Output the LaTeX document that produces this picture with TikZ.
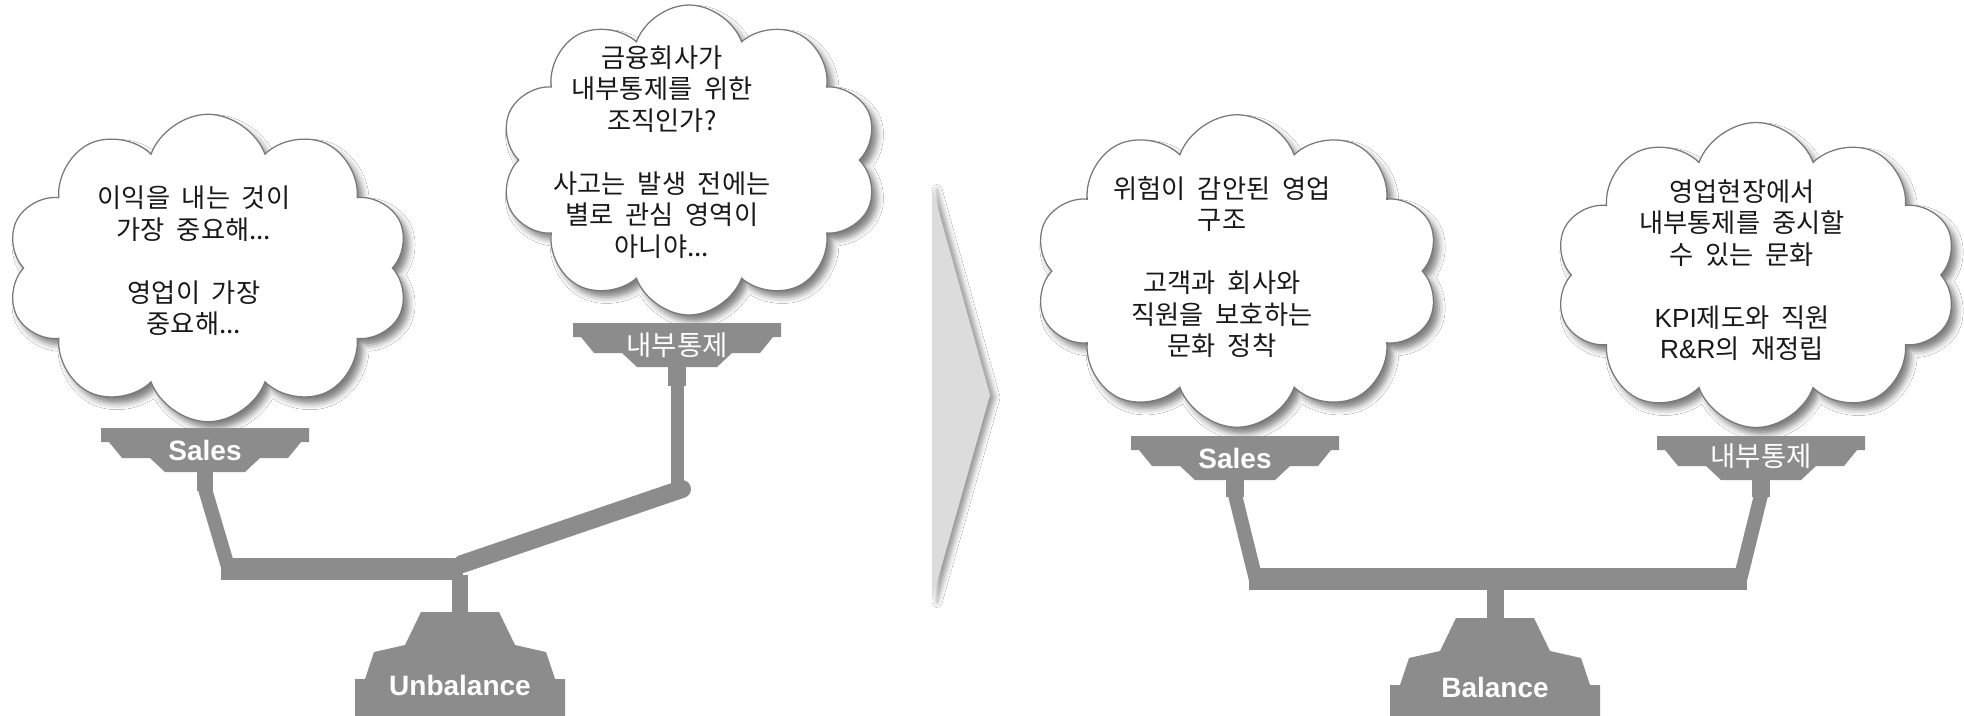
\documentclass[tikz,border=0pt]{standalone}
\usepackage{fontspec}
\setmainfont{Liberation Sans}
\newfontfamily\krfont[WordSpace=2]{Noto Sans CJK KR}
\usetikzlibrary{shapes.symbols,shadows.blur}

\definecolor{scalegray}{RGB}{140,140,140}
\definecolor{arrowgray}{RGB}{220,220,220}
\definecolor{cloudline}{RGB}{120,120,120}
\newcommand{\engtext}[1]{{\normalfont #1}}

% pan and stand of a scale, drawn in pixel units
\tikzset{
  pan/.pic={
    \fill[scalegray] (-104,0) -- (104,0) -- (104,14) -- (96,14) -- (83,30) -- (55,30)
      -- (40,44) -- (-40,44) -- (-55,30) -- (-83,30) -- (-96,14) -- (-104,14) -- cycle;
  },
  stand/.pic={
    \fill[scalegray] (-39,0) -- (39,0) -- (55,33) -- (86,40) -- (95,67) -- (105,67)
      -- (105,104) -- (-105,104) -- (-105,67) -- (-95,67) -- (-86,40) -- (-55,33) -- cycle;
  }
}

\begin{document}
\begin{tikzpicture}[
    x=0.4pt, y=-0.4pt,
    cloudbox/.style={cloud, cloud puffs=10, cloud puff arc=140, cloud ignores aspect,
      draw=cloudline, line width=0.5pt, fill=white, inner sep=0pt,
      blur shadow={shadow xshift=2.2pt, shadow yshift=-2.6pt, shadow blur radius=2.5pt, shadow opacity=50}},
    thought/.style={align=center, text=black!90, font=\krfont\fontsize{10.5}{12.6}\selectfont},
    panlabel/.style={text=white, font=\bfseries\fontsize{11.2}{13}\selectfont},
    pankr/.style={text=white, font=\krfont\fontsize{11}{13}\selectfont},
    rod/.style={draw=scalegray, line width=#1}
  ]
  \useasboundingbox (0,0) rectangle (1964,715);
  \fill[white] (0,0) rectangle (1964,715);

  % --- Clouds ---
  \node[cloudbox, minimum width=161pt, minimum height=123pt] (profitCloud) at (208,268) {};
  \node[cloudbox, minimum width=151pt, minimum height=124pt] (doubtCloud) at (689,160) {};
  \node[cloudbox, minimum width=162pt, minimum height=125pt] (riskCloud) at (1237,271) {};
  \node[cloudbox, minimum width=161pt, minimum height=122pt] (cultureCloud) at (1756,275) {};

  \node[thought] (profitText) at (194,261)
    {이익을 내는 것이\\가장 중요해...\\[12.6pt]영업이 가장\\중요해...};
  \node[thought] (doubtText) at (662,152)
    {금융회사가\\내부통제를 위한\\조직인가?\\[12.6pt]사고는 발생 전에는\\별로 관심 영역이\\아니야...};
  \node[thought] (riskText) at (1222,267)
    {위험이 감안된 영업\\구조\\[12.6pt]고객과 회사와\\직원을 보호하는\\문화 정착};
  \node[thought] (cultureText) at (1742,270)
    {영업현장에서\\내부통제를 중시할\\수 있는 문화\\[12.6pt]\engtext{KPI}제도와 직원\\\engtext{R\&R}의 재정립};

  % --- Arrow between the two scales ---
  \fill[arrowgray, blur shadow={shadow xshift=2pt, shadow yshift=-1pt, shadow blur radius=2pt, shadow opacity=40}]
    (932,187) -- (990,395) -- (932,600) -- cycle;

  % --- Left scale (tilted) ---
  \pic at (205,428) {pan};
  \pic at (677,323) {pan};
  \draw[rod=6.4pt] (205,470) -- (205,491);
  \draw[rod=5.6pt] (205,489) -- (229,570);
  \draw[rod=8.8pt] (221,569) -- (463,569);
  \draw[rod=7.2pt, line cap=round] (462,564) -- (682,489);
  \draw[rod=7.2pt] (677,365) -- (677,386);
  \draw[rod=5.2pt] (677,384) -- (677,490);
  \draw[rod=6.4pt] (460,575) -- (460,614);
  \pic at (460,612) {stand};

  \node[panlabel] (leftSales) at (205,450) {Sales};
  \node[pankr] (leftControl) at (677,345) {내부통제};
  \node[panlabel] (unbalance) at (460,685) {Unbalance};

  % --- Right scale (level) ---
  \pic at (1235,436) {pan};
  \pic at (1761,436) {pan};
  \draw[rod=7.2pt] (1235,478) -- (1235,497);
  \draw[rod=5.6pt] (1235,495) -- (1256,580);
  \draw[rod=7.2pt] (1761,478) -- (1761,497);
  \draw[rod=5.6pt] (1761,495) -- (1740,580);
  \draw[rod=8.8pt] (1249,579) -- (1747,579);
  \draw[rod=6.8pt] (1495,585) -- (1495,621);
  \pic at (1495,618) {stand};

  \node[panlabel] (rightSales) at (1235,458) {Sales};
  \node[pankr] (rightControl) at (1761,456) {내부통제};
  \node[panlabel] (balance) at (1495,687) {Balance};
\end{tikzpicture}
\end{document}
